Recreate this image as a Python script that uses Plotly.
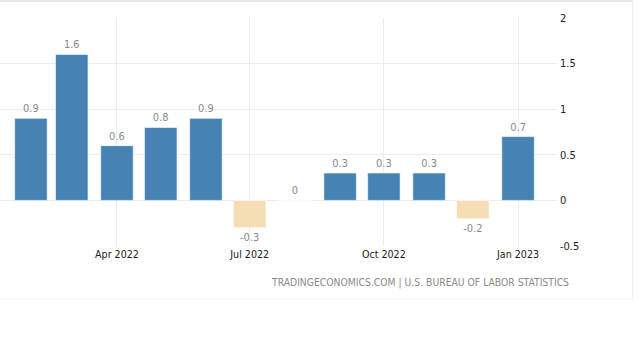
import pandas as pd
import plotly.graph_objects as go

# Monthly change, Jan 2022 - Dec 2022 (percent)
months = ["2022-01", "2022-02", "2022-03", "2022-04", "2022-05", "2022-06",
          "2022-07", "2022-08", "2022-09", "2022-10", "2022-11", "2022-12"]
values = [0.9, 1.6, 0.6, 0.8, 0.9, -0.3, 0.0, 0.3, 0.3, 0.3, -0.2, 0.7]
value_labels = ["0.9", "1.6", "0.6", "0.8", "0.9", "-0.3", "0", "0.3", "0.3", "0.3", "-0.2", "0.7"]
tick_dates = ["2022-04-01", "2022-07-01", "2022-10-01", "2023-01-01"]
tick_labels = ["Apr 2022", "Jul 2022", "Oct 2022", "Jan 2023"]
y_ticks = [-0.5, 0, 0.5, 1, 1.5, 2]
y_tick_labels = ["-0.5", "0", "0.5", "1", "1.5", "2"]
source = "TRADINGECONOMICS.COM | U.S. BUREAU OF LABOR STATISTICS"

# each reading is plotted at the close of its month
x = pd.to_datetime(months) + pd.offsets.MonthBegin(1)

POS = "#4682b4"
NEG = "#f5deb3"
FONT = "DejaVu Sans Condensed, Liberation Sans, sans-serif"

colors = [POS if v >= 0 else NEG for v in values]
positions = ["outside"] * len(values)

fig = go.Figure()
fig.add_trace(go.Bar(
    x=x, y=values,
    width=22.3 * 86400000,
    marker=dict(color=colors, line=dict(color="rgba(255,255,255,0.6)", width=1)),
    text=value_labels, textposition=positions, cliponaxis=False,
    textfont=dict(family=FONT, size=11, color="#8a8a8a"),
    hoverinfo="skip",
))

fig.update_layout(
    width=640, height=340,
    margin=dict(l=0, r=83, t=18, b=94),
    paper_bgcolor="white", plot_bgcolor="white",
    showlegend=False,
    font=dict(family=FONT, size=11, color="#333333"),
    xaxis=dict(
        type="date",
        range=["2022-01-10 19:00", "2023-01-27 17:00"],
        tickvals=tick_dates, ticktext=tick_labels,
        showgrid=True, gridcolor="#ececec", gridwidth=1,
        zeroline=False, showline=False, ticks="",
        tickfont=dict(family=FONT, size=10.6, color="#222222"),
        fixedrange=True,
    ),
    yaxis=dict(
        side="right",
        range=[-0.5, 2],
        tickvals=y_ticks, ticktext=y_tick_labels,
        showgrid=True, gridcolor="#ececec", gridwidth=1,
        zeroline=False, showline=False, ticks="",
        ticklabelstandoff=2,
        tickfont=dict(family=FONT, size=11, color="#222222"),
        fixedrange=True,
    ),
    annotations=[dict(
        text=source, xref="paper", yref="paper",
        x=1.0251, y=-0.162, xanchor="right", yanchor="middle",
        showarrow=False,
        font=dict(family=FONT, size=10.3, color="#8a8a8a"),
    )],
    shapes=[
        # surrounding frame: top, right and bottom edges
        dict(type="line", xref="paper", yref="paper", x0=0, x1=1.1359,
             y0=1.0746, y1=1.0746, line=dict(color="#e2e2e2", width=1.5)),
        dict(type="line", xref="paper", yref="paper", x0=1.1359, x1=1.1359,
             y0=1.0746, y1=-0.232, line=dict(color="#ececec", width=1)),
        dict(type="line", xref="paper", yref="paper", x0=0, x1=1.1359,
             y0=-0.232, y1=-0.232, line=dict(color="#f0f0f0", width=1)),
    ],
)

fig.write_html("out.html", config={"displayModeBar": False})
